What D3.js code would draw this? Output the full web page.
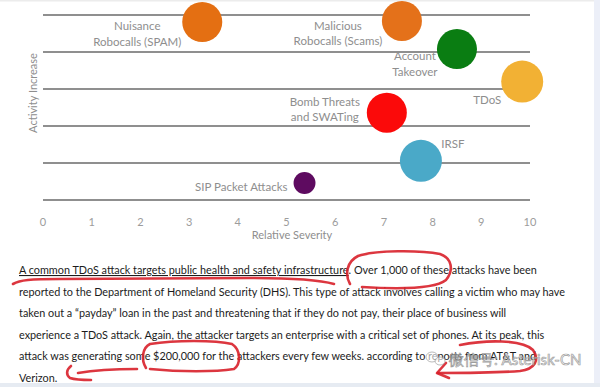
<!DOCTYPE html>
<html lang="en">
<head>
<meta charset="UTF-8" />
<title>Threat severity vs activity</title>
<script src="https://cdn.jsdelivr.net/npm/d3@7/dist/d3.min.js"></script>
<style>
  body { margin: 0; padding: 0; background: #fff; }
  text { font-family: Lato, "Liberation Sans", sans-serif; }
  .axis-label, .tick-label, .bubble-label { fill: #8e8e8e; }
  .tick-label { fill: #9c9c9c; }
  .para { fill: #1c1c1c; }
  .ink { fill: none; stroke: #d8202a; stroke-width: 2.6; stroke-linecap: round; stroke-linejoin: round; opacity: 0.9; }
</style>
</head>
<body>
<svg width="600" height="387"></svg>
<script>
// threats plotted as bubbles
var threats = ['Nuisance Robocalls (SPAM)', 'Malicious Robocalls (Scams)', 'Account Takeover', 'TDoS',
               'Bomb Threats and SWATing', 'IRSF', 'SIP Packet Attacks'];
var labelLines = [['Nuisance', 'Robocalls (SPAM)'], ['Malicious', 'Robocalls (Scams)'], ['Account', 'Takeover'],
                  ['TDoS'], ['Bomb Threats', 'and SWATing'], ['IRSF'], ['SIP Packet Attacks']];
var severity = [3.27, 7.37, 8.5, 9.84, 7.06, 7.76, 5.37];
var activity = [4.81, 4.84, 4.08, 3.2, 2.36, 1.06, 0.46];
var bubbleSize = [400, 400, 400, 440, 400, 440, 120];
var colors = ['#e46f12', '#e4711a', '#0a7d12', '#f2b134', '#fb0a0a', '#4aa9c8', '#5e0b60'];
var xTicks = [0, 1, 2, 3, 4, 5, 6, 7, 8, 9, 10];
var yTicks = [0, 1, 2, 3, 4, 5];

var paragraph = [
  'A common TDoS attack targets public health and safety infrastructure. Over 1,000 of these attacks have been',
  'reported to the Department of Homeland Security (DHS). This type of attack involves calling a victim who may have',
  'taken out a \u201cpayday\u201d loan in the past and threatening that if they do not pay, their place of business will',
  'experience a TDoS attack. Again, the attacker targets an enterprise with a critical set of phones. At its peak, this',
  'attack was generating some $200,000 for the attackers every few weeks. according to reports from AT&T and',
  'Verizon.'
];
var underlined = 'A common TDoS attack targets public health and safety infrastructure';

var svg = d3.select('svg');

// page edges of the screenshot
svg.append('rect').attr('x', 594).attr('y', 0).attr('width', 6).attr('height', 387).attr('fill', '#eceff8');
svg.append('rect').attr('x', 0).attr('y', 383).attr('width', 600).attr('height', 4).attr('fill', '#e6ebf2');
svg.append('rect').attr('x', 0).attr('y', 0).attr('width', 594).attr('height', 1.5).attr('fill', '#ececec');

var x = d3.scaleLinear().domain([0, 10]).range([43, 530]);
var y = d3.scaleLinear().domain([0, 5]).range([200, 15]);
var r = d3.scaleSqrt().domain([0, 440]).range([0, 21]);

var chart = svg.append('g');

// horizontal gridlines
chart.selectAll('line.grid')
  .data(yTicks)
  .enter()
  .append('line')
  .attr('class', 'grid')
  .attr('x1', x(0))
  .attr('x2', x(10))
  .attr('y1', d => y(d))
  .attr('y2', d => y(d))
  .attr('stroke', '#8f8f8f')
  .attr('stroke-width', 2);

// x tick labels
chart.selectAll('text.tick-label')
  .data(xTicks)
  .enter()
  .append('text')
  .attr('class', 'tick-label')
  .attr('x', d => x(d))
  .attr('y', 226)
  .attr('text-anchor', 'middle')
  .attr('font-size', 11)
  .text(d => d);

chart.append('text')
  .attr('class', 'axis-label')
  .attr('x', 292)
  .attr('y', 239)
  .attr('text-anchor', 'middle')
  .attr('font-size', 11)
  .text('Relative Severity');

chart.append('text')
  .attr('class', 'axis-label')
  .attr('transform', 'translate(37,93) rotate(-90)')
  .attr('text-anchor', 'middle')
  .attr('font-size', 11)
  .text('Activity Increase');

// bubbles
chart.selectAll('circle.bubble')
  .data(threats)
  .enter()
  .append('circle')
  .attr('class', 'bubble')
  .attr('cx', (d, i) => x(severity[i]))
  .attr('cy', (d, i) => y(activity[i]))
  .attr('r', (d, i) => r(bubbleSize[i]))
  .attr('fill', (d, i) => colors[i]);

// label placement relative to each bubble: dx, dy of first line, anchor
var labelPlace = [
  { dx: -65, dy: 4, anchor: 'middle' },
  { dx: -64, dy: 5, anchor: 'middle' },
  { dx: -42, dy: 7, anchor: 'middle' },
  { dx: -35, dy: 18, anchor: 'middle' },
  { dx: -62, dy: -11, anchor: 'middle' },
  { dx: 32, dy: -17, anchor: 'middle' },
  { dx: -17, dy: 4, anchor: 'end' }
];

threats.forEach(function (name, i) {
  var p = labelPlace[i];
  var t = chart.append('text')
    .attr('class', 'bubble-label')
    .attr('font-size', 11.5)
    .attr('text-anchor', p.anchor);
  labelLines[i].forEach(function (line, j) {
    t.append('tspan')
      .attr('x', x(severity[i]) + p.dx)
      .attr('y', y(activity[i]) + p.dy + j * 15.5)
      .attr('dy', '0.35em')
      .text(line);
  });
});

// paragraph under the chart
var para = svg.append('g');
var lines = para.selectAll('text.para')
  .data(paragraph)
  .enter()
  .append('text')
  .attr('class', 'para')
  .attr('x', 19)
  .attr('y', (d, i) => 274 + i * 21.5)
  .attr('font-size', 10);

lines.each(function (d, i) {
  var t = d3.select(this);
  if (i === 0) {
    t.append('tspan').attr('text-decoration', 'underline').text(underlined);
    t.append('tspan').text(d.slice(underlined.length));
  } else {
    t.text(d);
  }
});

// fit font so the second line spans the same width as in the page
var w = lines.filter((d, i) => i === 1).node().getComputedTextLength();
lines.attr('font-size', 10 * 547 / w);

// red pen annotations
var ink = svg.append('g');
ink.append('path').attr('class', 'ink')
  .attr('d', 'M13,284 C20,280 30,279 60,279 L250,278 C300,278 320,280 334,284');
ink.append('path').attr('class', 'ink')
  .attr('d', 'M350,284 C345,275 346,262 358,256 C375,250 420,250 440,254 C452,258 454,270 446,280 C435,289 395,289 362,287');
ink.append('path').attr('class', 'ink')
  .attr('d', 'M146,368 C141,360 142,348 150,344 C175,340 215,340 232,344 C241,350 241,364 234,369 C215,372 180,372 150,369');
ink.append('path').attr('class', 'ink')
  .attr('d', 'M137,369 C118,369 95,370 78,373');
ink.append('path').attr('class', 'ink')
  .attr('d', 'M71,366 C66,370 66,375 70,378 C76,380 84,380 91,380');
ink.append('path').attr('class', 'ink')
  .attr('d', 'M460,345 C485,340 522,339 533,350 C540,360 535,369 520,371 C495,373 465,373 438,373');
ink.append('path').attr('class', 'ink')
  .attr('d', 'M446,363 L437,373 L449,378');

// watermark
var wm = svg.append('g').attr('opacity', 0.85);
wm.append('ellipse').attr('cx', 432).attr('cy', 357).attr('rx', 6).attr('ry', 5)
  .attr('fill', 'rgba(255,255,255,0.7)').attr('stroke', '#9a9a9a').attr('stroke-width', 0.8);
wm.append('ellipse').attr('cx', 440).attr('cy', 361).attr('rx', 5).attr('ry', 4)
  .attr('fill', 'rgba(255,255,255,0.7)').attr('stroke', '#9a9a9a').attr('stroke-width', 0.8);
wm.append('text')
  .attr('x', 449)
  .attr('y', 365)
  .attr('font-size', 15)
  .attr('font-family', '"Noto Sans CJK SC", "DejaVu Sans", sans-serif')
  .attr('fill', 'rgba(255,255,255,0.75)')
  .attr('stroke', '#8e8e8e')
  .attr('stroke-width', 0.7)
  .text('微信号: Asterisk-CN');
</script>
</body>
</html>
